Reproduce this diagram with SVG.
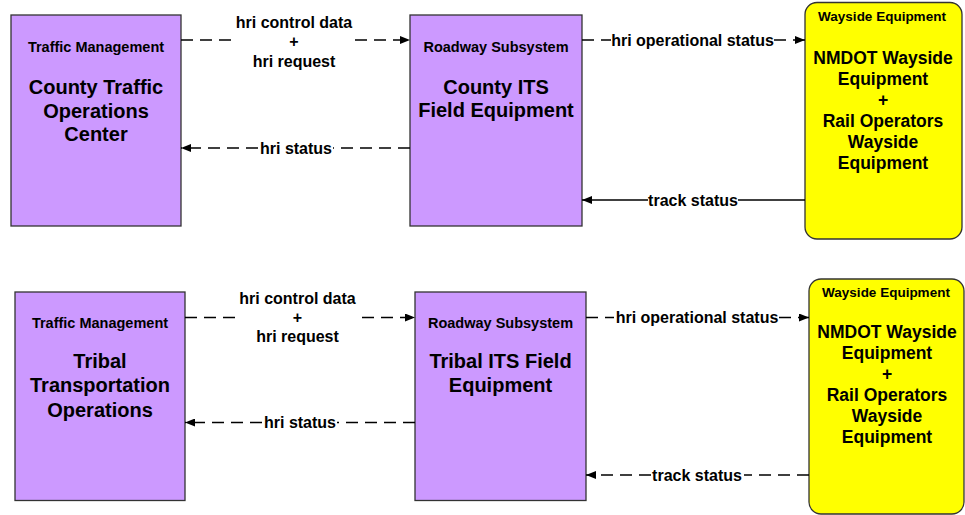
<svg xmlns="http://www.w3.org/2000/svg" width="965" height="515" viewBox="0 0 965 515">
<style>
.bg{fill:#ffffff}
.p{fill:#CC99FF;stroke:#333;stroke-width:1.3}
.y{fill:#FFFF00;stroke:#333;stroke-width:1.3}
text{font-family:"Liberation Sans",Arial,sans-serif;font-weight:bold;fill:#000;text-anchor:middle}
.st{font-size:14.5px}
.sty{font-size:13.5px}
.tt{font-size:20px}
.ty{font-size:17.5px}
.lb{font-size:16px}
.c{stroke:#000;stroke-width:1.3;fill:none}
.d{stroke-dasharray:12 7}
</style>
<defs>
<marker id="ah" markerUnits="userSpaceOnUse" markerWidth="11" markerHeight="8" refX="10" refY="4" orient="auto">
<path d="M0,0 L10,4 L0,8 z" fill="#000"/>
</marker>
</defs>
<rect class="bg" x="0" y="0" width="965" height="515"/>

<g id="tmc-county">
<rect class="p" x="11" y="15" width="170" height="211"/>
<text class="st" x="96" y="52">Traffic Management</text>
<text class="tt" x="96" y="94">County Traffic</text>
<text class="tt" x="96" y="117.5">Operations</text>
<text class="tt" x="96" y="141">Center</text>
</g>
<g id="rs-county">
<rect class="p" x="410" y="15" width="172" height="211"/>
<text class="st" x="496" y="52">Roadway Subsystem</text>
<text class="tt" x="496" y="93.5">County ITS</text>
<text class="tt" x="496" y="117">Field Equipment</text>
</g>
<g id="wayside-top">
<rect class="y" x="805" y="2.5" width="157" height="236.5" rx="12" ry="12"/>
<text class="sty" x="882" y="21">Wayside Equipment</text>
<text class="ty" x="883" y="64">NMDOT Wayside</text>
<text class="ty" x="883" y="85">Equipment</text>
<text class="ty" x="883" y="106">+</text>
<text class="ty" x="883" y="127">Rail Operators</text>
<text class="ty" x="883" y="148">Wayside</text>
<text class="ty" x="883" y="169">Equipment</text>
</g>

<g id="tmc-tribal">
<rect class="p" x="15" y="292" width="170" height="208.5"/>
<text class="st" x="100" y="328">Traffic Management</text>
<text class="tt" x="100" y="368">Tribal</text>
<text class="tt" x="100" y="392">Transportation</text>
<text class="tt" x="100" y="416.5">Operations</text>
</g>
<g id="rs-tribal">
<rect class="p" x="415" y="292" width="171" height="208.5"/>
<text class="st" x="500.5" y="328">Roadway Subsystem</text>
<text class="tt" x="500.5" y="368">Tribal ITS Field</text>
<text class="tt" x="500.5" y="392">Equipment</text>
</g>
<g id="wayside-bottom">
<rect class="y" x="809" y="279" width="155" height="235" rx="12" ry="12"/>
<text class="sty" x="886" y="297">Wayside Equipment</text>
<text class="ty" x="887" y="338">NMDOT Wayside</text>
<text class="ty" x="887" y="359">Equipment</text>
<text class="ty" x="887" y="380">+</text>
<text class="ty" x="887" y="401">Rail Operators</text>
<text class="ty" x="887" y="422">Wayside</text>
<text class="ty" x="887" y="443">Equipment</text>
</g>

<g id="connectors">
<line class="c d" x1="181" y1="40" x2="233" y2="40"/>
<line class="c d" x1="355" y1="40" x2="410" y2="40" marker-end="url(#ah)"/>
<text class="lb" x="294" y="28">hri control data</text>
<text class="lb" x="294" y="46.5">+</text>
<text class="lb" x="294" y="67">hri request</text>

<line class="c d" x1="410" y1="148" x2="333" y2="148"/>
<line class="c d" x1="258" y1="148" x2="181" y2="148" marker-end="url(#ah)"/>
<text class="lb" x="296" y="153.5">hri status</text>

<line class="c d" x1="582" y1="40" x2="611" y2="40"/>
<line class="c d" x1="774" y1="40" x2="805" y2="40" marker-end="url(#ah)"/>
<text class="lb" x="692.5" y="45.5">hri operational status</text>

<line class="c" x1="805" y1="200" x2="738" y2="200"/>
<line class="c" x1="648" y1="200" x2="582" y2="200" marker-end="url(#ah)"/>
<text class="lb" x="693" y="205.5">track status</text>

<line class="c d" x1="185" y1="317.5" x2="238" y2="317.5"/>
<line class="c d" x1="362" y1="317.5" x2="415" y2="317.5" marker-end="url(#ah)"/>
<text class="lb" x="297.5" y="303.5">hri control data</text>
<text class="lb" x="297.5" y="323">+</text>
<text class="lb" x="297.5" y="342">hri request</text>

<line class="c d" x1="415" y1="422.5" x2="337" y2="422.5"/>
<line class="c d" x1="262" y1="422.5" x2="185" y2="422.5" marker-end="url(#ah)"/>
<text class="lb" x="300" y="428">hri status</text>

<line class="c d" x1="586" y1="317.5" x2="614" y2="317.5"/>
<line class="c d" x1="779" y1="317.5" x2="809" y2="317.5" marker-end="url(#ah)"/>
<text class="lb" x="697" y="323">hri operational status</text>

<line class="c d" x1="809" y1="475" x2="744" y2="475"/>
<line class="c d" x1="651" y1="475" x2="586" y2="475" marker-end="url(#ah)"/>
<text class="lb" x="697" y="480.5">track status</text>
</g>
</svg>
